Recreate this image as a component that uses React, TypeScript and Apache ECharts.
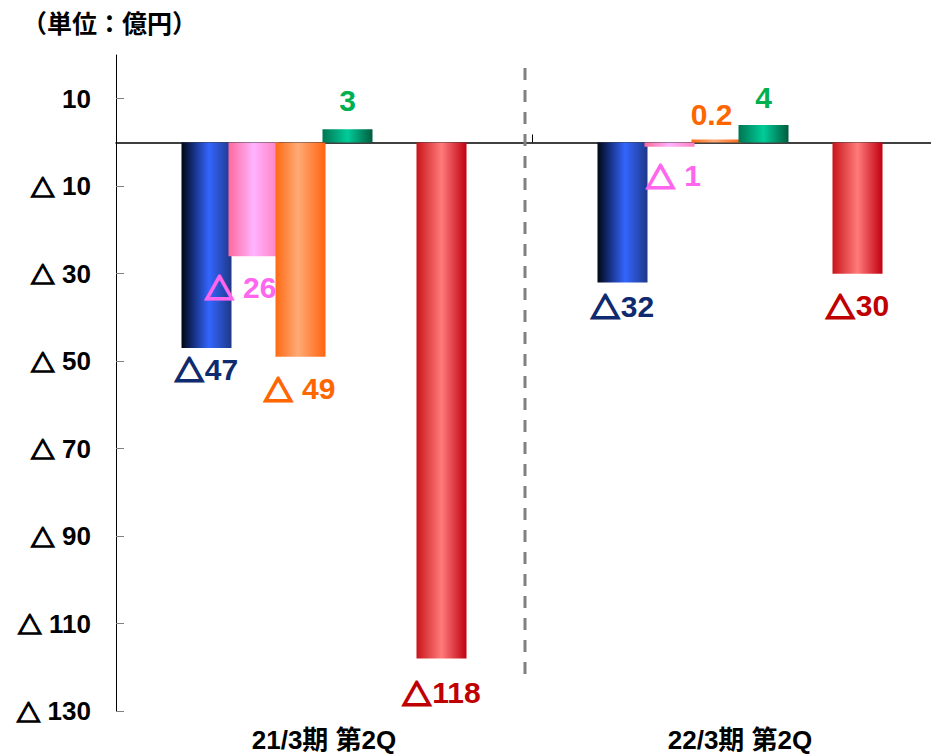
import React, { useEffect, useRef } from 'react';
import * as echarts from 'echarts';

const categories = ['21/3期 第2Q', '22/3期 第2Q'];
const yTicks = [10, -10, -30, -50, -70, -90, -110, -130];
const yMin = -130;
const yMax = 20;

const blueValues = [-47, -32];
const pinkValues = [-26, -1];
const orangeValues = [-49, 0.2];
const greenValues = [3, 4];
const redValues = [-118, -30];

const blueLabels = ['△47', '△32'];
const pinkLabels = ['△ 26', '△ 1'];
const orangeLabels = ['△ 49', '0.2'];
const greenLabels = ['3', '4'];
const redLabels = ['△118', '△30'];

const FONT = "Arial, 'Liberation Sans', 'DejaVu Sans', 'Noto Sans CJK JP', sans-serif";
const TRI_FONT = "'Noto Sans CJK JP', 'DejaVu Sans', sans-serif";

type Place = { pos: string; d: number; dx: number };

function grad(stops: [number, string][]) {
  return new echarts.graphic.LinearGradient(
    0, 0, 1, 0,
    stops.map(([offset, color]) => ({ offset, color }))
  );
}

// wrap the triangle glyph in a rich-text token so that it can be drawn bold
function richTri(s: string) {
  return s.replace('△', '{t|△}');
}

function makeSeries(
  name: string,
  values: number[],
  labels: string[],
  color: any,
  labelColor: string,
  places: Place[],
  extra: any = {}
) {
  return {
    name,
    type: 'bar',
    xAxisIndex: 0,
    yAxisIndex: 0,
    barWidth: 50,
    barGap: '-6%',
    data: values.map((v, i) => ({
      value: v,
      label: {
        position: places[i].pos,
        distance: places[i].d,
        offset: [places[i].dx, 0],
      },
    })),
    itemStyle: { color },
    label: {
      show: true,
      formatter: (p: any) => richTri(labels[p.dataIndex]),
      color: labelColor,
      fontSize: 30,
      fontWeight: 'bold',
      fontFamily: FONT,
      rich: {
        t: {
          fontFamily: TRI_FONT,
          fontSize: 29,
          fontWeight: 'bold',
          color: labelColor,
          textBorderColor: labelColor,
          textBorderWidth: 2.2,
          padding: [0, 1, 0, 0],
        },
      },
    },
    ...extra,
  };
}

export default function App() {
  const ref = useRef<HTMLDivElement>(null);
  useEffect(() => {
    if (!ref.current) return;
    const chart = echarts.init(ref.current, null, { renderer: 'svg' });
    const option: any = {
      animation: false,
      backgroundColor: '#ffffff',
      title: {
        text: '（単位：億円）',
        left: 17,
        top: 4,
        textStyle: {
          fontSize: 25,
          fontWeight: 'bold',
          color: '#000',
          fontFamily: "'Noto Sans CJK JP', sans-serif",
        },
      },
      grid: {
        left: 116,
        top: 55,
        width: 832,
        bottom: 45,
        outerBoundsMode: 'none',
        containLabel: false,
      },
      xAxis: [
        {
          type: 'category',
          data: categories,
          position: 'bottom',
          axisLine: { show: false, onZero: false },
          axisTick: { show: false },
          splitLine: { show: false },
          axisLabel: {
            margin: 16,
            color: '#000',
            fontSize: 26,
            fontWeight: 'bold',
            fontFamily: FONT,
          },
        },
        {
          type: 'category',
          data: categories,
          position: 'top',
          axisLine: { show: true, onZero: true, lineStyle: { color: '#000', width: 1.5 } },
          axisTick: { show: true, inside: false, length: 8, lineStyle: { color: '#000', width: 1 } },
          axisLabel: { show: false },
          splitLine: { show: false },
        },
      ],
      yAxis: {
        type: 'value',
        min: yMin,
        max: yMax,
        axisLine: { show: true, onZero: false, lineStyle: { color: '#000', width: 1 } },
        axisTick: {
          show: true,
          inside: true,
          length: 8,
          customValues: yTicks,
          lineStyle: { color: '#808080', width: 1 },
        },
        splitLine: { show: false },
        axisLabel: {
          customValues: yTicks,
          margin: 25,
          color: '#000',
          fontSize: 26,
          fontWeight: 'bold',
          fontFamily: FONT,
          formatter: (v: number) => (v < 0 ? '{t|△} ' + -v : String(v)),
          rich: {
            t: {
              fontFamily: TRI_FONT,
              fontSize: 24,
              fontWeight: 'bold',
              color: '#000',
              textBorderColor: '#000',
              textBorderWidth: 1.6,
            },
          },
        },
      },
      graphic: [
        {
          type: 'line',
          shape: { x1: 525, y1: 68, x2: 525, y2: 680 },
          style: { stroke: '#808080', lineWidth: 3, lineDash: [12, 10] },
          z: 1,
        },
      ],
      series: [
        makeSeries(
          'A',
          blueValues,
          blueLabels,
          grad([[0, '#000614'], [0.2, '#12286e'], [0.55, '#3366ff'], [1, '#1e3888']]),
          '#0f2a6e',
          [
            { pos: 'bottom', d: 6, dx: 0 },
            { pos: 'bottom', d: 9, dx: 0 },
          ]
        ),
        makeSeries(
          'B',
          pinkValues,
          pinkLabels,
          grad([[0, '#ff6a9c'], [0.5, '#ffb3ff'], [1, '#ff80c0']]),
          '#ff66ee',
          [
            { pos: 'bottom', d: 16, dx: -13 },
            { pos: 'bottom', d: 14, dx: 4 },
          ]
        ),
        makeSeries(
          'C',
          orangeValues,
          orangeLabels,
          grad([[0, '#ff6a12'], [0.45, '#ffaa77'], [1, '#ff6410']]),
          '#ff6600',
          [
            { pos: 'bottom', d: 17, dx: -1 },
            { pos: 'top', d: 10, dx: -5 },
          ],
          { barMinHeight: 3 }
        ),
        makeSeries(
          'D',
          greenValues,
          greenLabels,
          grad([[0, '#007552'], [0.5, '#00cc99'], [1, '#005c3e']]),
          '#00b050',
          [
            { pos: 'top', d: 14, dx: 0 },
            { pos: 'top', d: 12, dx: 0 },
          ]
        ),
        {
          name: 'gap',
          type: 'bar',
          barWidth: 50,
          barGap: '-6%',
          data: ['-', '-'],
        },
        makeSeries(
          'E',
          redValues,
          redLabels,
          grad([[0, '#c8141a'], [0.5, '#ff7b7b'], [1, '#c00010']]),
          '#c00000',
          [
            { pos: 'bottom', d: 19, dx: 0 },
            { pos: 'bottom', d: 17, dx: 0 },
          ]
        ),
      ],
    };
    chart.setOption(option);
    return () => chart.dispose();
  }, []);
  return (
    <div
      ref={ref}
      style={{ position: 'absolute', left: 0, top: 0, width: 931, height: 756 }}
    />
  );
}
